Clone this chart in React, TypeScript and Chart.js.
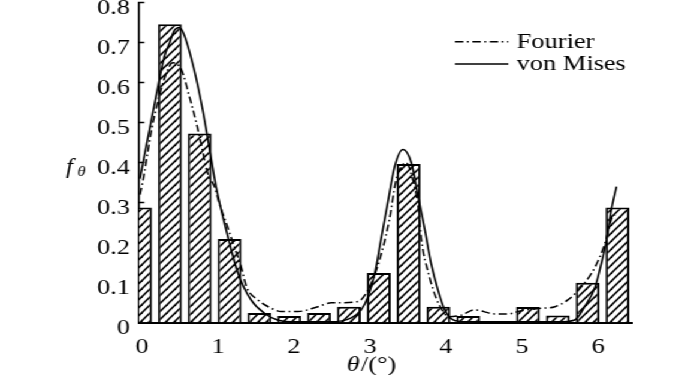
import React, { useEffect, useRef } from 'react';
import { Chart, registerables } from 'chart.js';

Chart.register(...registerables);

// ---------- data ----------
const binCenters = [0, 0.393, 0.785, 1.178, 1.571, 1.963, 2.356, 2.749, 3.142, 3.534, 3.927, 4.320, 4.712, 5.105, 5.498, 5.890, 6.283];
const barValues = [0.288, 0.746, 0.473, 0.209, 0.024, 0.017, 0.024, 0.040, 0.124, 0.397, 0.040, 0.017, 0, 0.039, 0.018, 0.100, 0.288];

const fourierTheta = [0.0, 0.04, 0.15, 0.24, 0.33, 0.43, 0.545, 0.65, 0.74, 0.8, 0.89, 0.98, 1.04, 1.15, 1.24, 1.33, 1.4, 1.55, 1.72, 1.86, 2.08, 2.34, 2.52, 2.65, 2.87, 3.0, 3.11, 3.2, 3.28, 3.37, 3.44, 3.5, 3.59, 3.66, 3.7, 3.8, 3.9, 4.0, 4.05, 4.23, 4.4, 4.67, 4.84, 5.02, 5.28, 5.46, 5.63, 5.81, 5.99, 6.12, 6.2, 6.25];
const fourierValues = [0.32, 0.357, 0.48, 0.557, 0.615, 0.65, 0.632, 0.565, 0.5, 0.45, 0.374, 0.34, 0.3, 0.24, 0.19, 0.14, 0.09, 0.057, 0.037, 0.028, 0.028, 0.04, 0.05, 0.05, 0.053, 0.082, 0.132, 0.19, 0.257, 0.357, 0.39, 0.4, 0.357, 0.29, 0.21, 0.12, 0.06, 0.025, 0.015, 0.019, 0.032, 0.022, 0.022, 0.03, 0.036, 0.04, 0.057, 0.09, 0.14, 0.2, 0.257, 0.27];

const vonMisesTheta = [0.0, 0.07, 0.21, 0.32, 0.39, 0.45, 0.52, 0.58, 0.715, 0.826, 0.936, 1.0, 1.155, 1.29, 1.46, 1.64, 1.81, 2.0, 2.5, 2.78, 2.91, 3.0, 3.09, 3.17, 3.26, 3.35, 3.46, 3.57, 3.66, 3.75, 3.83, 3.92, 4.01, 4.12, 4.3, 5.5, 5.72, 5.85, 5.99, 6.07, 6.14, 6.2, 6.27];
const vonMisesValues = [0.36, 0.43, 0.565, 0.665, 0.7, 0.73, 0.738, 0.72, 0.63, 0.53, 0.41, 0.34, 0.215, 0.123, 0.057, 0.023, 0.007, 0.002, 0.002, 0.012, 0.032, 0.065, 0.124, 0.207, 0.3, 0.39, 0.433, 0.4, 0.315, 0.23, 0.148, 0.082, 0.032, 0.007, 0.002, 0.002, 0.007, 0.04, 0.09, 0.148, 0.207, 0.28, 0.34];

const xTickValues = [0, 1, 2, 3, 4, 5, 6];
const yTickValues = [0, 0.1, 0.2, 0.3, 0.4, 0.5, 0.6, 0.7, 0.8];

const seriesLabels = ['Fourier', 'von Mises'];
const xTitleSymbol = 'θ';
const xTitleUnit = '/(°)';
const yTitleMain = 'f';
const yTitleSub = 'θ';

// ---------- layout ----------
const CANVAS_W = 584;
const CANVAS_H = 375;
const STRETCH = 700 / CANVAS_W;
const FONT = "'Liberation Serif', 'Times New Roman', serif";

function makeHatch(): CanvasPattern | string {
  const w = 7, h = 8;
  const c = document.createElement('canvas');
  c.width = w;
  c.height = h;
  const g = c.getContext('2d');
  if (!g) return '#fff';
  g.fillStyle = '#fff';
  g.fillRect(0, 0, w, h);
  g.strokeStyle = '#000';
  g.lineWidth = 1.6;
  for (let k = -1; k <= 1; k++) {
    g.beginPath();
    g.moveTo(-w, h + k * h + h);
    g.lineTo(2 * w, k * h - h);
    g.stroke();
  }
  return g.createPattern(c, 'repeat') || '#fff';
}

const textPlugin = {
  id: 'textPlugin',
  afterDraw(chart: any) {
    const ctx = chart.ctx as CanvasRenderingContext2D;
    ctx.save();
    ctx.fillStyle = '#000';
    ctx.textBaseline = 'alphabetic';
    ctx.textAlign = 'left';

    // legend
    const legendRows = [
      { ds: chart.data.datasets[0], y: 41.7, textY: 48.3 },
      { ds: chart.data.datasets[1], y: 64, textY: 70 },
    ];
    for (const row of legendRows) {
      ctx.save();
      ctx.strokeStyle = '#000';
      ctx.lineWidth = row.ds.borderWidth || 1.6;
      ctx.setLineDash(row.ds.borderDash || []);
      ctx.beginPath();
      ctx.moveTo(379.6, row.y);
      ctx.lineTo(424.1, row.y);
      ctx.stroke();
      ctx.restore();
      ctx.font = `22px ${FONT}`;
      ctx.fillText(row.ds.label, 431.1, row.textY);
    }

    // x title
    ctx.font = `italic 22px ${FONT}`;
    const tx = 289.3;
    ctx.fillText(xTitleSymbol, tx, 371);
    const w1 = ctx.measureText(xTitleSymbol).width;
    ctx.font = `22px ${FONT}`;
    ctx.fillText(xTitleUnit, tx + w1 + 1, 371);

    // y title
    ctx.font = `italic 21px ${FONT}`;
    ctx.fillText(yTitleMain, 55, 173);
    ctx.font = `italic 14px ${FONT}`;
    ctx.fillText(yTitleSub, 64.5, 176);
    ctx.restore();
  },
};

export default function App() {
  const ref = useRef<HTMLCanvasElement | null>(null);

  useEffect(() => {
    if (!ref.current) return;
    const hatch = makeHatch();
    const chart = new Chart(ref.current, {
      type: 'bar',
      data: {
        datasets: [
          {
            type: 'line',
            label: seriesLabels[0],
            data: fourierTheta.map((t, i) => ({ x: t, y: fourierValues[i] })),
            borderColor: '#000',
            borderWidth: 1.5,
            borderDash: [7, 3, 1.5, 3],
            pointRadius: 0,
            cubicInterpolationMode: 'monotone',
            fill: false,
            order: 0,
          } as any,
          {
            type: 'line',
            label: seriesLabels[1],
            data: vonMisesTheta.map((t, i) => ({ x: t, y: vonMisesValues[i] })),
            borderColor: '#000',
            borderWidth: 1.6,
            pointRadius: 0,
            cubicInterpolationMode: 'monotone',
            fill: false,
            order: 1,
          } as any,
          {
            type: 'bar',
            label: 'histogram',
            data: binCenters.map((t, i) => ({ x: t, y: barValues[i] })),
            backgroundColor: hatch as any,
            borderColor: '#000',
            borderWidth: 2,
            barPercentage: 0.8,
            categoryPercentage: 1,
            clip: 0,
            order: 2,
          } as any,
        ],
      },
      options: {
        animation: false,
        responsive: true,
        maintainAspectRatio: false,
        devicePixelRatio: 1,
        layout: { padding: { left: 0, top: 2.7, right: 57, bottom: 0 } },
        plugins: {
          legend: { display: false },
          tooltip: { enabled: false },
          title: { display: false },
        },
        scales: {
          x: {
            type: 'linear',
            min: -0.01,
            max: 6.47,
            offset: false,
            grid: { display: false },
            border: { display: true, color: '#000', width: 2 },
            ticks: {
              color: '#000',
              font: { family: FONT, size: 22 },
              padding: 3,
              labelOffset: 1.7,
              maxRotation: 0,
              autoSkip: false,
            },
            afterBuildTicks: (s: any) => {
              s.ticks = xTickValues.map((v) => ({ value: v }));
            },
            afterFit: (s: any) => {
              s.height = 52.3;
              s.paddingLeft = 0;
              s.paddingRight = 0;
              s.paddingTop = 0;
              s.paddingBottom = 0;
            },
          },
          y: {
            type: 'linear',
            min: 0,
            max: 0.8,
            grid: {
              display: true,
              drawOnChartArea: false,
              drawTicks: true,
              tickLength: -4.2,
              tickColor: '#000',
              tickWidth: 1.5,
            },
            border: { display: true, color: '#000', width: 1.7 },
            ticks: {
              color: '#000',
              font: { family: FONT, size: 22 },
              padding: 11.9,
              labelOffset: 5.5,
              callback: (v: any) => (Number(v) === 0 ? '0' : Number(v).toFixed(1)),
            },
            afterBuildTicks: (s: any) => {
              s.ticks = yTickValues.map((v) => ({ value: v }));
            },
            afterFit: (s: any) => {
              s.width = 116.2;
              s.paddingTop = 0;
              s.paddingBottom = 0;
              s.paddingLeft = 0;
              s.paddingRight = 0;
            },
          },
        },
      } as any,
      plugins: [textPlugin],
    });
    return () => chart.destroy();
  }, []);

  return (
    <div
      style={{
        position: 'absolute',
        left: 0,
        top: 0,
        width: CANVAS_W,
        height: CANVAS_H,
        transform: `scaleX(${STRETCH})`,
        transformOrigin: '0 0',
        background: '#fff',
      }}
    >
      <canvas ref={ref} />
    </div>
  );
}
